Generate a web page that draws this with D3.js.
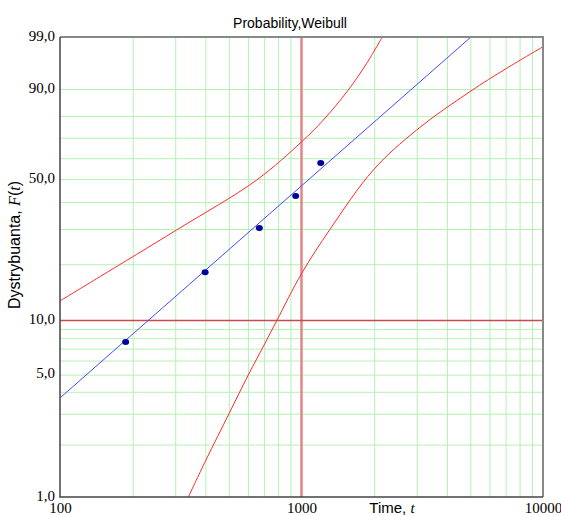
<!DOCTYPE html>
<html>
<head>
<meta charset="utf-8">
<script src="https://cdn.jsdelivr.net/npm/d3@7"></script>
<style>
  body { margin: 0; background: #fff; }
  svg { display: block; }
</style>
</head>
<body>
<div id="chart"></div>
<script>
// data: time t, F(t) in percent
var point_t      = [187, 399, 669, 946, 1201];
var point_f      = [7.62, 18.17, 30.35, 42.53, 57.67];

var fit_t        = [100, 5030];
var fit_f        = [3.69, 99];

var upper_t      = [100, 146, 304, 652, 1002, 1231, 1562, 1862, 2160];
var upper_f      = [12.8, 17.2, 29.7, 49.6, 68.1, 78.2, 89.7, 96.1, 99];

var lower_t      = [340, 402, 502, 602, 706, 790, 1002, 1312, 1983, 2999, 4985, 7073, 10000];
var lower_f      = [1, 1.63, 3.02, 4.98, 7.49, 10, 17.95, 29.9, 54.3, 73.7, 89.2, 95.2, 98.25];

var x_labels     = [100, 1000, 10000];
var x_grid       = [200, 300, 400, 500, 600, 700, 800, 900, 2000, 3000, 4000, 5000, 6000, 7000, 8000, 9000];
var y_labels     = [1, 5, 10, 50, 90, 99];
var y_grid       = [2, 3, 4, 5, 6, 7, 8, 9, 20, 30, 40, 50, 60, 70, 80, 90];
var ref_t        = 1000;
var ref_f        = 10;

// Create SVG Element
var chart_width  = 561;
var chart_height = 516;
// plot box (note: "top" is taken by window.top, so prefixed names)
var p_left = 60, p_right = 543, p_top = 37, p_bottom = 497;

var svg = d3.select( '#chart' )
    .append( 'svg' )
    .attr( 'width', chart_width )
    .attr( 'height', chart_height );

// weibull probability transform: z = ln(-ln(1-F))
function wz( p ){
    return Math.log( -Math.log( 1 - p / 100 ) );
}

var x_scale = d3.scaleLog()
    .domain([100, 10000])
    .range([p_left, p_right]);

var y_scale = d3.scaleLinear()
    .domain([wz(1), wz(99)])
    .range([p_bottom, p_top]);

function fy( p ){ return y_scale( wz(p) ); }

// grid
svg.append( 'g' )
    .attr( 'transform', 'translate(0,' + p_bottom + ')' )
    .call( d3.axisBottom(x_scale).tickValues(x_grid).tickSize(-(p_bottom - p_top)).tickFormat('') )
    .call( g => g.select('.domain').remove() )
    .selectAll( 'line' )
    .attr( 'stroke', '#b2f2b2' );

svg.append( 'g' )
    .attr( 'transform', 'translate(' + p_left + ',0)' )
    .call( d3.axisLeft(y_scale).tickValues(y_grid.map(wz)).tickSize(-(p_right - p_left)).tickFormat('') )
    .call( g => g.select('.domain').remove() )
    .selectAll( 'line' )
    .attr( 'stroke', '#b2f2b2' );

// reference lines
svg.append( 'line' )
    .attr( 'x1', x_scale(ref_t) ).attr( 'x2', x_scale(ref_t) )
    .attr( 'y1', p_top ).attr( 'y2', p_bottom )
    .attr( 'stroke', '#e48484' )
    .attr( 'stroke-width', 2.5 );

svg.append( 'line' )
    .attr( 'x1', p_left ).attr( 'x2', p_right )
    .attr( 'y1', fy(ref_f) ).attr( 'y2', fy(ref_f) )
    .attr( 'stroke', '#c84a4a' )
    .attr( 'stroke-width', 1.5 );

// clip
svg.append( 'clipPath' ).attr( 'id', 'clip' )
    .append( 'rect' )
    .attr( 'x', p_left ).attr( 'y', p_top )
    .attr( 'width', p_right - p_left ).attr( 'height', p_bottom - p_top );

var plot = svg.append( 'g' ).attr( 'clip-path', 'url(#clip)' );

var line = d3.line()
    .x( d => x_scale(d[0]) )
    .y( d => fy(d[1]) )
    .curve( d3.curveCatmullRom.alpha(0.5) );

plot.append( 'path' )
    .datum( d3.zip(upper_t, upper_f) )
    .attr( 'd', line )
    .attr( 'fill', 'none' )
    .attr( 'stroke', '#ff2a2a' );

plot.append( 'path' )
    .datum( d3.zip(lower_t, lower_f) )
    .attr( 'd', line )
    .attr( 'fill', 'none' )
    .attr( 'stroke', '#ff2a2a' );

plot.append( 'path' )
    .datum( d3.zip(fit_t, fit_f) )
    .attr( 'd', line )
    .attr( 'fill', 'none' )
    .attr( 'stroke', '#4848ff' );

plot.selectAll( 'ellipse' )
    .data( d3.zip(point_t, point_f) )
    .enter()
    .append( 'ellipse' )
    .attr( 'cx', d => x_scale(d[0]) )
    .attr( 'cy', d => fy(d[1]) )
    .attr( 'rx', 3.5 )
    .attr( 'ry', 3 )
    .attr( 'fill', '#00009a' );

// frame
svg.append( 'path' )
    .attr( 'd', 'M' + p_left + ',' + p_top + 'H' + p_right + 'V' + p_bottom )
    .attr( 'fill', 'none' )
    .attr( 'stroke', '#888' )
    .attr( 'stroke-width', 2 );

svg.append( 'path' )
    .attr( 'd', 'M' + p_left + ',' + p_top + 'V' + p_bottom + 'H' + p_right )
    .attr( 'fill', 'none' )
    .attr( 'stroke', '#444' )
    .attr( 'stroke-width', 1.5 );

// tick labels
var y_axis = svg.append( 'g' )
    .attr( 'transform', 'translate(' + p_left + ',0)' )
    .call( d3.axisLeft(y_scale)
        .tickValues(y_labels.map(wz))
        .tickSize(0)
        .tickPadding(5)
        .tickFormat( (d, i) => y_labels[i].toFixed(1).replace('.', ',') ) );
y_axis.select( '.domain' ).remove();
y_axis.selectAll( 'text' )
    .attr( 'font-family', '"Liberation Serif", serif' )
    .attr( 'font-size', 15 )
    .attr( 'fill', '#000' )
    .attr( 'dy', '0.22em' );

var x_axis = svg.append( 'g' )
    .attr( 'transform', 'translate(0,' + p_bottom + ')' )
    .call( d3.axisBottom(x_scale)
        .tickValues(x_labels)
        .tickSize(0)
        .tickPadding(5)
        .tickFormat( d3.format('d') ) );
x_axis.select( '.domain' ).remove();
x_axis.selectAll( 'text' )
    .attr( 'font-family', '"Liberation Serif", serif' )
    .attr( 'font-size', 15 )
    .attr( 'fill', '#000' );

// titles
svg.append( 'text' )
    .attr( 'x', 290 )
    .attr( 'y', 28 )
    .attr( 'text-anchor', 'middle' )
    .attr( 'font-family', '"Liberation Sans", Arial, sans-serif' )
    .attr( 'font-size', 14 )
    .text( 'Probability,Weibull' );

var x_title = svg.append( 'text' )
    .attr( 'x', 392 )
    .attr( 'y', 513 )
    .attr( 'text-anchor', 'middle' )
    .attr( 'font-family', '"Liberation Sans", Arial, sans-serif' )
    .attr( 'font-size', 15 );
x_title.append( 'tspan' ).text( 'Time, ' );
x_title.append( 'tspan' )
    .attr( 'font-family', '"Liberation Serif", serif' )
    .attr( 'font-style', 'italic' )
    .text( 't' );

var y_title = svg.append( 'text' )
    .attr( 'transform', 'translate(20,245) rotate(-90)' )
    .attr( 'text-anchor', 'middle' )
    .attr( 'font-family', '"Liberation Sans", Arial, sans-serif' )
    .attr( 'font-size', 16 );
y_title.append( 'tspan' ).text( 'Dystrybuanta, ' );
y_title.append( 'tspan' )
    .attr( 'font-family', '"Liberation Serif", serif' )
    .attr( 'font-style', 'italic' )
    .text( 'F' );
y_title.append( 'tspan' ).text( '(' );
y_title.append( 'tspan' )
    .attr( 'font-family', '"Liberation Serif", serif' )
    .attr( 'font-style', 'italic' )
    .text( 't' );
y_title.append( 'tspan' ).text( ')' );
</script>
</body>
</html>
